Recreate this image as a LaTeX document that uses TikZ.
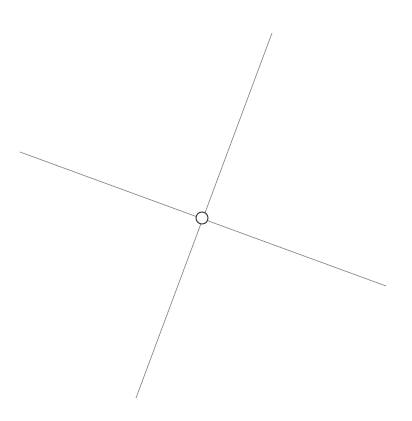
\documentclass[tikz,border=0pt]{standalone}
\begin{document}
\begin{tikzpicture}[x=0.75pt,y=-0.75pt,
  axisline/.style={draw=black!45,line width=0.55pt},
  joint/.style={circle,draw=black!75,line width=0.8pt,minimum size=9pt,inner sep=0pt}]
\useasboundingbox (0,0) rectangle (411,421);
\coordinate (a1) at (20,152);
\coordinate (a2) at (386,286);
\coordinate (b1) at (272,33);
\coordinate (b2) at (136,398);
\draw[axisline] (a1) -- (a2);
\draw[axisline] (b1) -- (b2);
\node[joint,fill=white] (c) at (202,218) {};
\end{tikzpicture}
\end{document}
